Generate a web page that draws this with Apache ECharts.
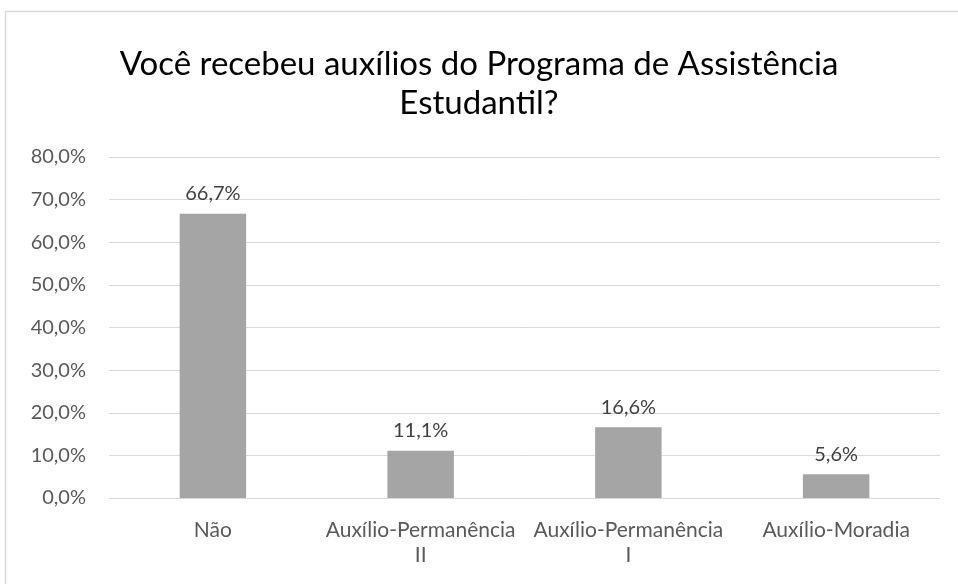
<!DOCTYPE html>
<html>
<head>
<meta charset="utf-8">
<script src="https://cdn.jsdelivr.net/npm/echarts@6/dist/echarts.min.js"></script>
<style>
  html, body { margin: 0; padding: 0; background: #fff; }
  #chart { width: 958px; height: 584px; }
</style>
</head>
<body>
<div id="chart"></div>
<script>
// dados do gráfico
const categorias = ['Não', 'Auxílio-Permanência II', 'Auxílio-Permanência I', 'Auxílio-Moradia']
const valores = [66.7, 11.1, 16.6, 5.6]
const tituloTexto = 'Você recebeu auxílios do Programa de Assistência\nEstudantil?'

const fmt = v => v.toFixed(1).replace('.', ',') + '%'

const chart = echarts.init(document.getElementById('chart'))
chart.setOption({
  animation: false,
  textStyle: { fontFamily: 'Lato' },
  title: {
    text: tituloTexto,
    left: 'center',
    top: 40,
    textStyle: { fontFamily: 'Lato', fontSize: 33, fontWeight: 'normal', color: '#000', lineHeight: 39 }
  },
  graphic: [{
    type: 'rect',
    shape: { x: 5.5, y: 11.5, width: 1200, height: 1200 },
    style: { fill: 'none', stroke: '#d9d9d9', lineWidth: 1.5 }
  }],
  grid: { left: 109, right: 18, top: 157, bottom: 86 },
  xAxis: {
    type: 'category',
    data: categorias,
    axisLine: { lineStyle: { color: '#d9d9d9', width: 1 } },
    axisTick: { show: false },
    axisLabel: {
      color: '#595959',
      fontSize: 21,
      margin: 20,
      lineHeight: 25,
      interval: 0,
      formatter: v => v.replace(/ (I+)$/, '\n$1')
    }
  },
  yAxis: {
    type: 'value',
    min: 0,
    max: 80,
    interval: 10,
    axisLine: { show: false },
    axisTick: { show: false },
    splitLine: { lineStyle: { color: '#d9d9d9', width: 1 } },
    axisLabel: { color: '#595959', fontSize: 20, margin: 23, formatter: fmt }
  },
  series: [{
    type: 'bar',
    data: valores,
    barWidth: '32%',
    itemStyle: { color: '#a5a5a5' },
    label: {
      show: true,
      position: 'top',
      distance: 10,
      color: '#404040',
      fontSize: 20,
      formatter: p => fmt(p.value)
    }
  }]
})
</script>
</body>
</html>
